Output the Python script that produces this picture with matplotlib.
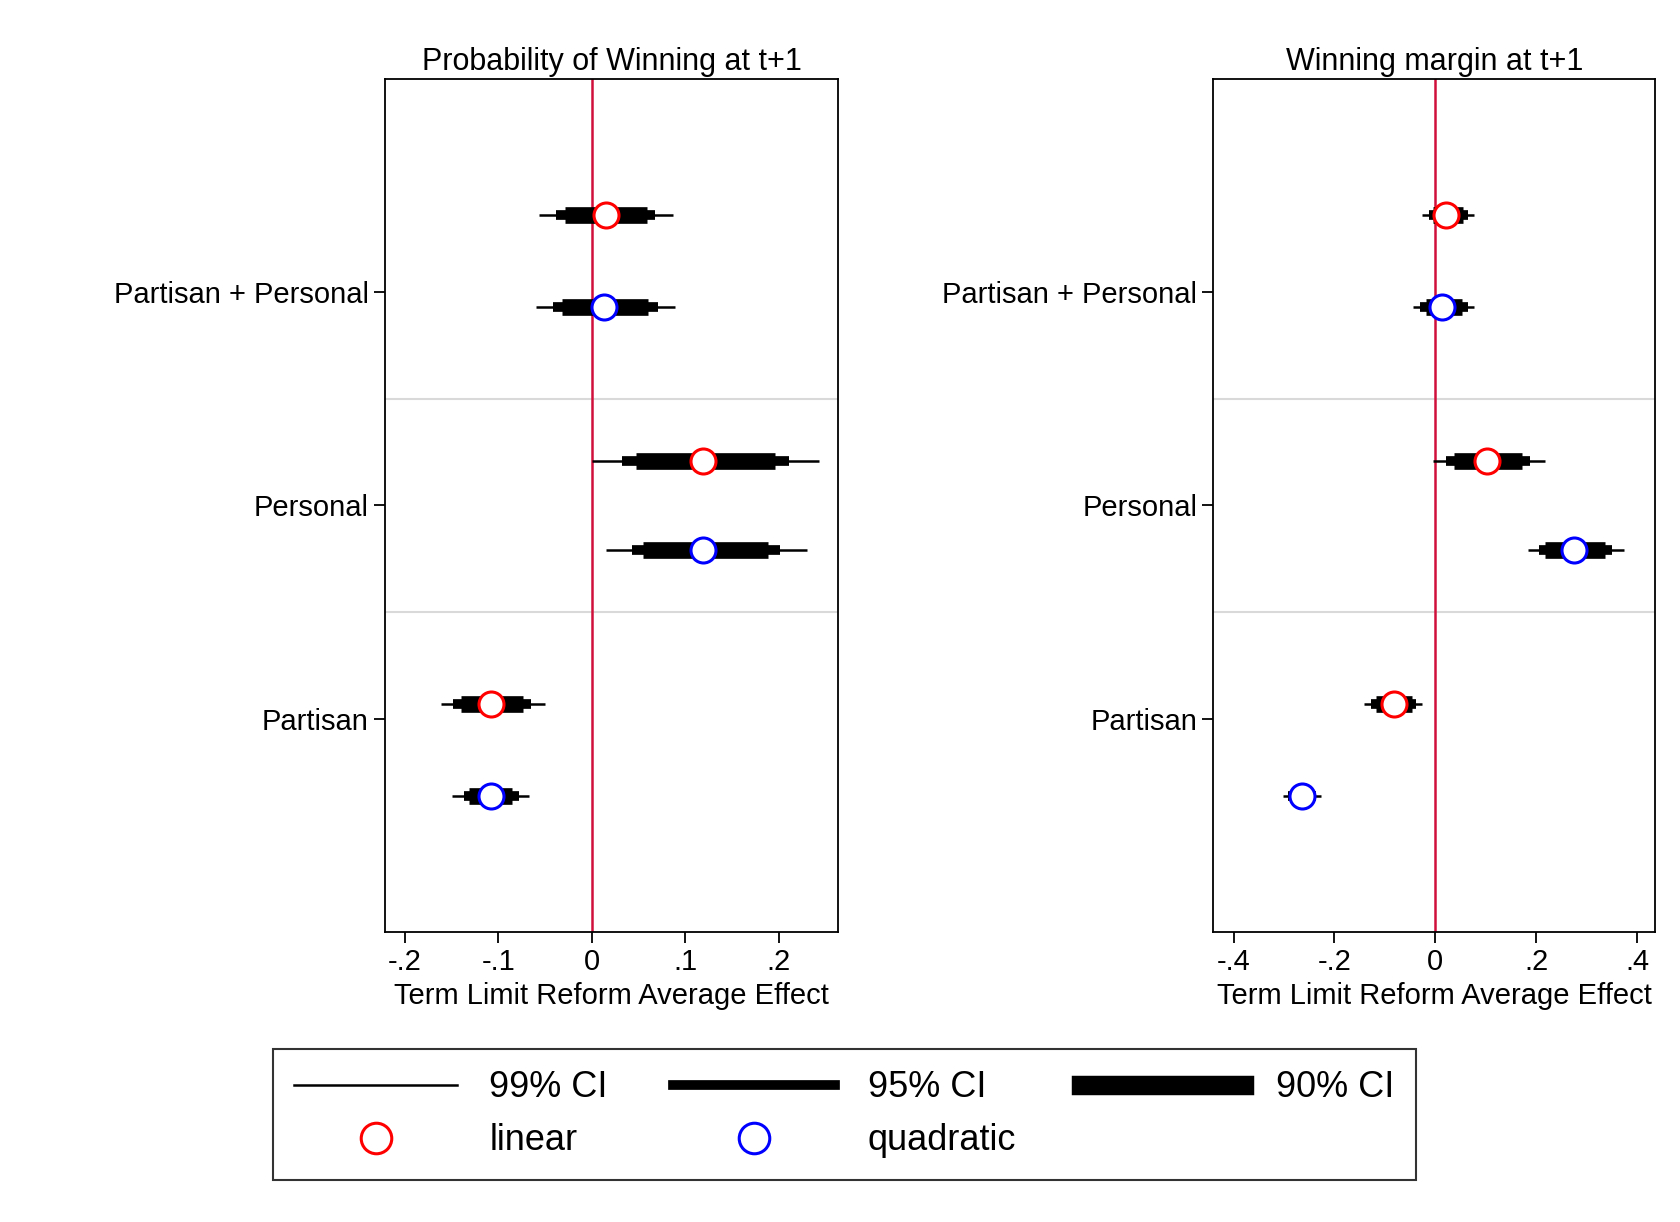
import matplotlib
matplotlib.use("Agg")
import matplotlib.pyplot as plt
from matplotlib.lines import Line2D

plt.rcParams['font.family'] = ['Liberation Sans', 'DejaVu Sans']

groups = ["Partisan", "Personal", "Partisan + Personal"]
models = ["linear", "quadratic"]
colors = {"linear": "red", "quadratic": "blue"}
# vertical positions of estimates (order: Partisan, Personal, P+P)
ypos = {"linear": [1.07, 2.21, 3.36], "quadratic": [0.64, 1.79, 2.93]}

# left panel: Probability of winning
left_est = {"linear": [-0.108, 0.119, 0.015], "quadratic": [-0.108, 0.119, 0.013]}
left_99 = {"linear": [(-0.161, -0.050), (0.000, 0.243), (-0.056, 0.087)],
           "quadratic": [(-0.149, -0.067), (0.015, 0.230), (-0.060, 0.089)]}
left_95 = {"linear": [(-0.148, -0.065), (0.032, 0.211), (-0.038, 0.068)],
           "quadratic": [(-0.137, -0.078), (0.043, 0.202), (-0.041, 0.071)]}
left_90 = {"linear": [(-0.140, -0.073), (0.047, 0.196), (-0.029, 0.059)],
           "quadratic": [(-0.131, -0.085), (0.055, 0.189), (-0.032, 0.060)]}

right_est = {"linear": [-0.081, 0.103, 0.021], "quadratic": [-0.265, 0.276, 0.013]}
right_99 = {"linear": [(-0.141, -0.026), (-0.004, 0.218), (-0.026, 0.077)],
            "quadratic": [(-0.301, -0.226), (0.184, 0.374), (-0.045, 0.077)]}
right_95 = {"linear": [(-0.128, -0.038), (0.021, 0.188), (-0.013, 0.064)],
            "quadratic": [(-0.291, -0.237), (0.205, 0.350), (-0.030, 0.064)]}
right_90 = {"linear": [(-0.118, -0.047), (0.038, 0.173), (-0.004, 0.056)],
            "quadratic": [(-0.284, -0.244), (0.218, 0.337), (-0.019, 0.053)]}

W, H = 1560, 1134
fig = plt.figure(figsize=(16.81, 12.22), dpi=100)

def panel(rect, title, est, c99, c95, c90, xlim, ticks, ticklabels):
    ax = fig.add_axes(rect)
    ax.set_xlim(*xlim)
    ax.set_ylim(0, 4)
    for yy in (1.5, 2.5):
        ax.axhline(yy, color="#d9d9d9", lw=1.5, zorder=0)
    ax.axvline(0, color="#d0103a", lw=1.8, zorder=1)
    for i in range(3):
        for m in models:
            y = ypos[m][i]
            ax.plot(c99[m][i], [y, y], color="black", lw=1.8, solid_capstyle="butt", zorder=2)
            ax.plot(c95[m][i], [y, y], color="black", lw=7, solid_capstyle="butt", zorder=2)
            ax.plot(c90[m][i], [y, y], color="black", lw=12, solid_capstyle="butt", zorder=2)
            ax.plot([est[m][i]], [y], "o", ms=18, mfc="white", mec=colors[m], mew=2.2, zorder=3)
    ax.set_yticks([1, 2, 3])
    ax.set_yticklabels(groups)
    ax.set_xticks(ticks)
    ax.set_xticklabels(ticklabels)
    ax.tick_params(labelsize=21, length=8, width=1.3, direction="out")
    ax.set_xlabel("Term Limit Reform Average Effect", fontsize=21)
    ax.set_title(title, fontsize=22)
    for s in ax.spines.values():
        s.set_linewidth(1.3)
    return ax

panel([357/W, 1-865/H, 421/W, 792/H], "Probability of Winning at t+1",
      left_est, left_99, left_95, left_90, (-0.2215, 0.264),
      [-0.2, -0.1, 0, 0.1, 0.2], ["-.2", "-.1", "0", ".1", ".2"])
panel([1126/W, 1-865/H, 410/W, 792/H], "Winning margin at t+1",
      right_est, right_99, right_95, right_90, (-0.44, 0.436),
      [-0.4, -0.2, 0, 0.2, 0.4], ["-.4", "-.2", "0", ".2", ".4"])

handles = [Line2D([], [], color="black", lw=1.8),
           Line2D([], [], ls="", marker="o", ms=22, mfc="white", mec="red", mew=2.2),
           Line2D([], [], color="black", lw=7),
           Line2D([], [], ls="", marker="o", ms=22, mfc="white", mec="blue", mew=2.2),
           Line2D([], [], color="black", lw=14)]
labels = ["99% CI", "linear", "95% CI", "quadratic", "90% CI"]
leg = fig.legend(handles, labels, ncol=3, loc="center",
                 bbox_to_anchor=((232+1335)/2/W, 1-1034/H),
                 fontsize=26, handlelength=4.5, handletextpad=0.9, columnspacing=1.8,
                 frameon=True, fancybox=False, edgecolor="black", borderpad=0.6,
                 labelspacing=0.5)
leg.get_frame().set_linewidth(1.5)

fig.savefig("out.png", dpi=100)
